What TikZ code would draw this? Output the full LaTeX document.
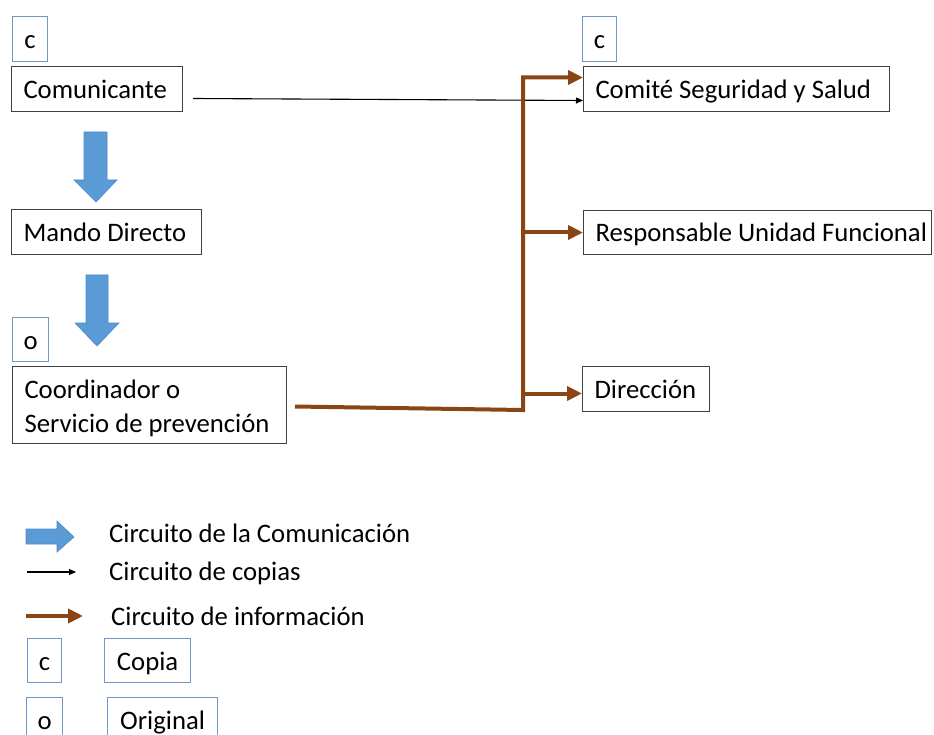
\documentclass[tikz,border=0pt]{standalone}
\usepackage{fontspec}
\setmainfont{Carlito}
\usetikzlibrary{arrows.meta}
\definecolor{blueA}{HTML}{5B9BD5}
\definecolor{blueEdge}{HTML}{4F8ACB}
\definecolor{brownA}{HTML}{8A4514}
\definecolor{frameB}{HTML}{7096C8}
\begin{document}
\begin{tikzpicture}[x=1pt,y=-1pt,
  font=\fontsize{26.7}{33.5}\selectfont,
  box/.style={draw=black!75, line width=1pt, anchor=north west, inner xsep=12pt,
    inner ysep=0pt, align=left, text height=20pt, text depth=1pt, minimum height=45pt,
    execute at begin node={\spaceskip=0pt\xspaceskip=0pt}},
  tag/.style={draw=frameB, line width=1.2pt, anchor=north west, inner sep=0pt,
    align=center, text height=20pt, text depth=1pt, minimum height=45pt},
  blockarrow/.style={fill=blueA, draw=blueEdge, line width=0.6pt},
  info/.style={draw=brownA, line width=4pt, -{Triangle[length=15pt,width=14pt]}},
  copyline/.style={draw=black, line width=1.1pt, -{Triangle[length=7pt,width=6pt]}},
  legtext/.style={anchor=base west, inner sep=0pt}]
\useasboundingbox (0,0) rectangle (934,735);
\clip (0,0) rectangle (934,735);

% left column
\node[tag, text width=35pt] (c1) at (12,16) {c};
\node[box, text width=147pt] (com) at (11,66) {\mbox{Comunicante}};
\node[box, text width=166pt] (mando) at (11,209) {\mbox{Mando Directo}};
\node[tag, text width=36pt, minimum height=44pt] (o1) at (12,317) {o};
\node[box, text width=250pt, minimum height=77pt, text height=20pt, text depth=33pt]
  (coord) at (12,366) {\mbox{Coordinador o}\\\mbox{Servicio de prevención}};

% right column
\node[tag, text width=34pt] (c2) at (582,16) {c};
\node[box, text width=282pt] (comite) at (583,66) {\mbox{Comité Seguridad y Salud}};
\node[box, text width=324pt, minimum height=44pt] (resp) at (583,210) {\mbox{Responsable Unidad Funcional}};
\node[box, text width=103pt] (dir) at (582,366) {\mbox{Dirección}};

% communication block arrows
\path[blockarrow] (84,132) -- (107,132) -- (107,180) -- (117,180) -- (96,202)
  -- (74,180) -- (84,180) -- cycle;
\path[blockarrow] (86,275) -- (108,275) -- (108,323) -- (119,323) -- (97,346)
  -- (75,323) -- (86,323) -- cycle;

% copy circuit
\draw[copyline] ([xshift=10pt,yshift=-9.5pt]com.east) -- ([yshift=-11.5pt]comite.west);

% information circuit
\coordinate (j) at (523,410);
\draw[info] ([xshift=8pt,yshift=-1.5pt]coord.east) -- (j) |- ([yshift=11.5pt]comite.west);
\draw[info] (resp.west -| j) -- (resp.west);
\draw[info] ([yshift=-4.5pt]dir.west -| j) -- ([yshift=-4.5pt]dir.west);

% legend
\path[blockarrow] (26,529) -- (57,529) -- (57,521) -- (74,537) -- (57,552)
  -- (57,544) -- (26,544) -- cycle;
\node[legtext] (l1) at (109,542) {Circuito de la Comunicación};
\coordinate (lc1) at (27,572);
\coordinate (lc2) at (76,572);
\draw[copyline] (lc1) -- (lc2);
\node[legtext] (l2) at (109,580) {Circuito de copias};
\coordinate (li1) at (26,616);
\coordinate (li2) at (83,616);
\draw[info] (li1) -- (li2);
\node[legtext] (l3) at (111,625) {Circuito de información};
\node[tag, text width=34pt, minimum height=44pt] (lc) at (27,638) {c};
\node[tag, text width=86pt, minimum height=44pt] (lcopia) at (104,638) {Copia};
\node[tag, text width=36pt] (lo) at (26,697) {o};
\node[tag, text width=110pt] (lorig) at (107,697) {Original};
\end{tikzpicture}
\end{document}
